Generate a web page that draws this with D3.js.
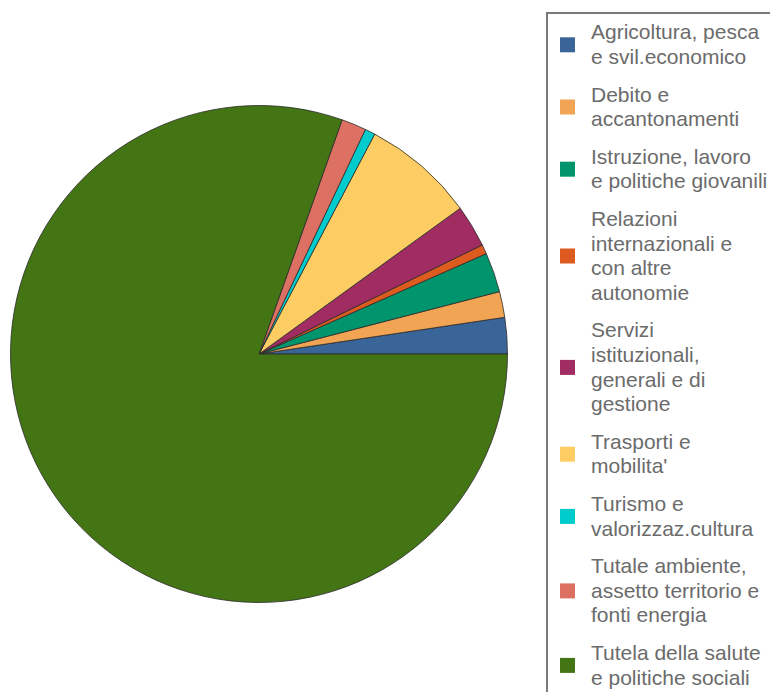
<!DOCTYPE html>
<html>
<head>
<meta charset="utf-8">
<script src="https://cdn.jsdelivr.net/npm/d3@7"></script>
<style>
  body { margin: 0; background: #fff; }
  svg { display: block; }
</style>
</head>
<body>
<svg id="chart" width="770" height="692"></svg>
<script>
(function() {

  // categories, in drawing order (counter-clockwise from 3 o'clock)
  var categories = [
    "Agricoltura, pesca e svil.economico",
    "Debito e accantonamenti",
    "Istruzione, lavoro e politiche giovanili",
    "Relazioni internazionali e con altre autonomie",
    "Servizi istituzionali, generali e di gestione",
    "Trasporti e mobilita'",
    "Turismo e valorizzaz.cultura",
    "Tutale ambiente, assetto territorio e fonti energia",
    "Tutela della salute e politiche sociali"
  ];

  // legend labels, already wrapped as in the picture
  var legendLines = [
    ["Agricoltura, pesca", "e svil.economico"],
    ["Debito e", "accantonamenti"],
    ["Istruzione, lavoro", "e politiche giovanili"],
    ["Relazioni", "internazionali e", "con altre", "autonomie"],
    ["Servizi", "istituzionali,", "generali e di", "gestione"],
    ["Trasporti e", "mobilita'"],
    ["Turismo e", "valorizzaz.cultura"],
    ["Tutale ambiente,", "assetto territorio e", "fonti energia"],
    ["Tutela della salute", "e politiche sociali"]
  ];

  // share of total (%)
  var values = [2.36, 1.68, 2.58, 0.61, 2.75, 7.31, 0.67, 1.61, 80.43];

  var colors = [
    "#3a6599", "#f0a454", "#00956c", "#de5b1f", "#a12c61",
    "#fdcd63", "#00cbcd", "#dc7062", "#437514"
  ];

  var svg = d3.select("#chart");

  var center = { x: 259, y: 354 };
  var radius = 248.5;

  var color = d3.scaleOrdinal().domain(categories).range(colors);

  // d3.pie goes clockwise from 12 o'clock; map it so slices run
  // counter-clockwise starting at 3 o'clock
  var pie = d3.pie()
    .sort(null)
    .value(function(d) { return d.value; })
    .startAngle(Math.PI / 2)
    .endAngle(Math.PI / 2 - 2 * Math.PI);

  var arc = d3.arc().innerRadius(0).outerRadius(radius);

  var data = categories.map(function(c, i) {
    return { name: c, value: values[i] };
  });

  svg.append("g")
    .attr("transform", "translate(" + center.x + "," + center.y + ")")
    .selectAll("path")
    .data(pie(data))
    .enter()
    .append("path")
    .attr("d", arc)
    .attr("fill", function(d) { return color(d.data.name); })
    .attr("stroke", "#2b2b2b")
    .attr("stroke-width", 0.8)
    .attr("stroke-linejoin", "round");

  // legend
  var lineHeight = 24.6;
  var itemGap = 13;
  var firstLine = 32;

  var legend = svg.append("g").attr("class", "legend");

  legend.append("rect")
    .attr("x", 547)
    .attr("y", 13)
    .attr("width", 240)
    .attr("height", 700)
    .attr("fill", "none")
    .attr("stroke", "#7a7a7a")
    .attr("stroke-width", 2);

  var y = firstLine;
  legendLines.forEach(function(lines, i) {
    var item = legend.append("g");
    var mid = y + (lines.length - 1) * lineHeight / 2;

    item.append("rect")
      .attr("x", 560)
      .attr("y", mid - 7)
      .attr("width", 15)
      .attr("height", 15)
      .attr("fill", color(categories[i]));

    item.selectAll("text")
      .data(lines)
      .enter()
      .append("text")
      .attr("x", 591)
      .attr("y", function(d, j) { return y + j * lineHeight; })
      .attr("dy", "0.35em")
      .attr("font-family", "'Liberation Sans', Arial, sans-serif")
      .attr("font-size", 21)
      .attr("fill", "#6b6b6b")
      .text(function(d) { return d; });

    y += lines.length * lineHeight + itemGap;
  });

}());
</script>
</body>
</html>
